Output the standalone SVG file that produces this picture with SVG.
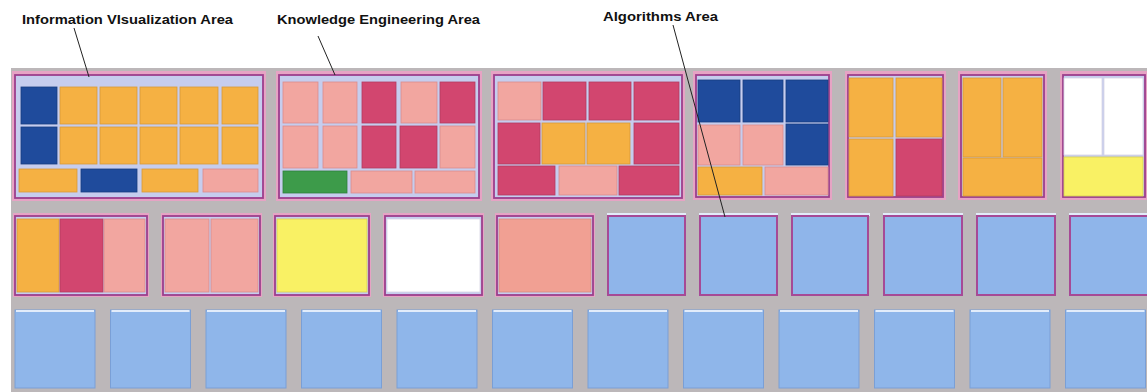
<svg xmlns="http://www.w3.org/2000/svg" width="1147" height="392" viewBox="0 0 1147 392">
<style>
.lbl{font-family:"Liberation Sans",Arial,sans-serif;font-weight:bold;font-size:12.5px;fill:#111}
.bg{fill:#bcb7b9}
.fo{fill:#e6a3c4}
.fi{fill:#c6cdee;stroke:#9c3f8c;stroke-width:1.8}
.o{fill:#f5b143;stroke:#d89a38;stroke-width:0.8}
.b{fill:#1f4b9c;stroke:#183c80;stroke-width:0.8}
.p{fill:#f2a6a0;stroke:#d98c8c;stroke-width:0.8}
.m{fill:#d2466f;stroke:#b23a60;stroke-width:0.8}
.g{fill:#3d9b4a;stroke:#2f7f3c;stroke-width:0.8}
.y{fill:#f9f164;stroke:#d8cf50;stroke-width:0.8}
.w{fill:#ffffff;stroke:#d8d4e4;stroke-width:0.8}
.s{fill:#f1a093;stroke:#d88a80;stroke-width:0.8}
.lbf{fill:#8fb5ea;stroke:#a64a96;stroke-width:2}
.top{fill:#e2ecfa}
.sq{fill:#8fb6ea;stroke:#7a9fd6;stroke-width:1}
.ln{stroke:#222;stroke-width:1;fill:none}
</style>

<rect class="bg" x="11" y="68" width="1136" height="324"/>

<g id="labels">
<text class="lbl" x="22" y="24" textLength="211" lengthAdjust="spacingAndGlyphs">Information VIsualization Area</text>
<text class="lbl" x="277" y="24" textLength="203" lengthAdjust="spacingAndGlyphs">Knowledge Engineering Area</text>
<text class="lbl" x="603" y="21" textLength="115" lengthAdjust="spacingAndGlyphs">Algorithms Area</text>
</g>

<!-- Row 1 -->
<g id="panel-infovis">
<rect class="fo" x="12" y="71" width="254" height="130"/>
<rect class="fi" x="15" y="75" width="248" height="123"/>
<rect class="b" x="21" y="87" width="36" height="37"/>
<rect class="o" x="60" y="87" width="37" height="37"/>
<rect class="o" x="100" y="87" width="37" height="37"/>
<rect class="o" x="140" y="87" width="37" height="37"/>
<rect class="o" x="180" y="87" width="38" height="37"/>
<rect class="o" x="222" y="87" width="36" height="37"/>
<rect class="b" x="21" y="127" width="36" height="37"/>
<rect class="o" x="60" y="127" width="37" height="37"/>
<rect class="o" x="100" y="127" width="37" height="37"/>
<rect class="o" x="140" y="127" width="37" height="37"/>
<rect class="o" x="180" y="127" width="38" height="37"/>
<rect class="o" x="222" y="127" width="36" height="37"/>
<rect class="o" x="19" y="169" width="58" height="23"/>
<rect class="b" x="81" y="169" width="56" height="23"/>
<rect class="o" x="142" y="169" width="56" height="23"/>
<rect class="p" x="203" y="169" width="55" height="23"/>
</g>

<g id="panel-knowledge">
<rect class="fo" x="276" y="71" width="206" height="130"/>
<rect class="fi" x="279" y="75" width="200" height="123"/>
<rect class="p" x="283" y="82" width="35" height="41"/>
<rect class="p" x="323" y="82" width="34" height="41"/>
<rect class="m" x="362" y="82" width="34" height="41"/>
<rect class="p" x="401" y="82" width="36" height="41"/>
<rect class="m" x="440" y="82" width="35" height="41"/>
<rect class="p" x="283" y="126" width="35" height="42"/>
<rect class="p" x="323" y="126" width="34" height="42"/>
<rect class="m" x="362" y="126" width="34" height="42"/>
<rect class="m" x="400" y="126" width="37" height="42"/>
<rect class="p" x="440" y="126" width="35" height="42"/>
<rect class="g" x="283" y="171" width="64" height="22"/>
<rect class="p" x="351" y="171" width="61" height="22"/>
<rect class="p" x="415" y="171" width="60" height="22"/>
</g>

<g id="panel-3">
<rect class="fo" x="491" y="71" width="194" height="130"/>
<rect class="fi" x="494" y="75" width="188" height="123"/>
<rect class="p" x="498" y="82" width="43" height="38"/>
<rect class="m" x="543" y="82" width="43" height="38"/>
<rect class="m" x="589" y="82" width="42" height="38"/>
<rect class="m" x="634" y="82" width="45" height="38"/>
<rect class="m" x="498" y="123" width="42" height="41"/>
<rect class="o" x="542" y="123" width="43" height="41"/>
<rect class="o" x="587" y="123" width="43" height="41"/>
<rect class="m" x="634" y="123" width="45" height="41"/>
<rect class="m" x="498" y="166" width="57" height="29"/>
<rect class="p" x="559" y="166" width="58" height="29"/>
<rect class="m" x="619" y="166" width="60" height="29"/>
</g>

<g id="panel-4">
<rect class="fo" x="693" y="71" width="139" height="129"/>
<rect class="fi" x="696" y="75" width="133" height="122"/>
<rect class="b" x="698" y="80" width="42" height="42"/>
<rect class="b" x="743" y="80" width="40" height="42"/>
<rect class="b" x="786" y="80" width="42" height="42"/>
<rect class="p" x="698" y="125" width="42" height="40"/>
<rect class="p" x="743" y="125" width="40" height="40"/>
<rect class="b" x="786" y="124" width="42" height="41"/>
<rect class="o" x="698" y="167" width="64" height="28"/>
<rect class="p" x="765" y="167" width="63" height="28"/>
</g>

<g id="panel-5">
<rect class="fo" x="845" y="71" width="101" height="129"/>
<rect class="fi" x="848" y="75" width="95" height="122"/>
<rect class="o" x="849" y="78" width="44" height="59"/>
<rect class="o" x="896" y="78" width="46" height="59"/>
<rect class="o" x="849" y="139" width="44" height="57"/>
<rect class="m" x="896" y="139" width="46" height="57"/>
</g>

<g id="panel-6">
<rect class="fo" x="958" y="71" width="89" height="129"/>
<rect class="fi" x="961" y="75" width="83" height="122"/>
<rect class="o" x="963" y="78" width="38" height="79"/>
<rect class="o" x="1003" y="78" width="39" height="79"/>
<rect class="o" x="963" y="158" width="79" height="38"/>
</g>

<g id="panel-7">
<rect class="fo" x="1060" y="71" width="87" height="129"/>
<rect class="fi" x="1063" y="75" width="82" height="122"/>
<rect class="w" x="1064" y="78" width="38" height="77"/>
<rect class="w" x="1104" y="78" width="39" height="77"/>
<rect class="y" x="1064" y="157" width="79" height="39"/>
</g>

<!-- Row 2 -->
<g id="panel-r2-1">
<rect class="fo" x="13" y="213" width="136" height="84"/>
<rect class="fi" x="15" y="216" width="132" height="79"/>
<rect class="o" x="17" y="219" width="42" height="73"/>
<rect class="m" x="60" y="219" width="43" height="73"/>
<rect class="p" x="104" y="219" width="41" height="73"/>
</g>
<g id="panel-r2-2">
<rect class="fo" x="161" y="213" width="101" height="84"/>
<rect class="fi" x="163" y="216" width="97" height="79"/>
<rect class="p" x="165" y="219" width="44" height="73"/>
<rect class="p" x="211" y="219" width="47" height="73"/>
</g>
<g id="panel-r2-3">
<rect class="fo" x="273" y="213" width="98" height="84"/>
<rect class="fi" x="275" y="216" width="94" height="79"/>
<rect class="y" x="277" y="219" width="90" height="73"/>
</g>
<g id="panel-r2-4">
<rect class="fo" x="383" y="213" width="101" height="84"/>
<rect class="fi" x="385" y="216" width="97" height="79"/>
<rect class="w" x="387" y="219" width="93" height="73"/>
</g>
<g id="panel-r2-5">
<rect class="fo" x="495" y="213" width="100" height="84"/>
<rect class="fi" x="497" y="216" width="96" height="79"/>
<rect class="s" x="499" y="219" width="92" height="73"/>
</g>
<g id="panel-r2-6"><rect class="top" x="607" y="213" width="79" height="3"/><rect class="lbf" x="608" y="216" width="77" height="79"/></g>
<g id="panel-r2-7"><rect class="top" x="699" y="213" width="79" height="3"/><rect class="lbf" x="700" y="216" width="77" height="79"/></g>
<g id="panel-r2-8"><rect class="top" x="791" y="213" width="79" height="3"/><rect class="lbf" x="792" y="216" width="76" height="79"/></g>
<g id="panel-r2-9"><rect class="top" x="883" y="213" width="80" height="3"/><rect class="lbf" x="884" y="216" width="78" height="79"/></g>
<g id="panel-r2-10"><rect class="top" x="976" y="213" width="80" height="3"/><rect class="lbf" x="977" y="216" width="78" height="79"/></g>
<g id="panel-r2-11"><rect class="top" x="1069" y="213" width="78" height="3"/><rect class="lbf" x="1070" y="216" width="78" height="79"/></g>

<!-- Row 3 -->
<g id="sq-1"><rect class="sq" x="15" y="310" width="80" height="78"/><rect class="top" x="16" y="310" width="78" height="2"/></g>
<g id="sq-2"><rect class="sq" x="110.5" y="310" width="80" height="78"/><rect class="top" x="111.5" y="310" width="78" height="2"/></g>
<g id="sq-3"><rect class="sq" x="206" y="310" width="80" height="78"/><rect class="top" x="207" y="310" width="78" height="2"/></g>
<g id="sq-4"><rect class="sq" x="301.5" y="310" width="80" height="78"/><rect class="top" x="302.5" y="310" width="78" height="2"/></g>
<g id="sq-5"><rect class="sq" x="397" y="310" width="80" height="78"/><rect class="top" x="398" y="310" width="78" height="2"/></g>
<g id="sq-6"><rect class="sq" x="492.5" y="310" width="80" height="78"/><rect class="top" x="493.5" y="310" width="78" height="2"/></g>
<g id="sq-7"><rect class="sq" x="588" y="310" width="80" height="78"/><rect class="top" x="589" y="310" width="78" height="2"/></g>
<g id="sq-8"><rect class="sq" x="683.5" y="310" width="80" height="78"/><rect class="top" x="684.5" y="310" width="78" height="2"/></g>
<g id="sq-9"><rect class="sq" x="779" y="310" width="80" height="78"/><rect class="top" x="780" y="310" width="78" height="2"/></g>
<g id="sq-10"><rect class="sq" x="874.5" y="310" width="80" height="78"/><rect class="top" x="875.5" y="310" width="78" height="2"/></g>
<g id="sq-11"><rect class="sq" x="970" y="310" width="80" height="78"/><rect class="top" x="971" y="310" width="78" height="2"/></g>
<g id="sq-12"><rect class="sq" x="1065.5" y="310" width="80" height="78"/><rect class="top" x="1066.5" y="310" width="78" height="2"/></g>

<g id="connectors">
<line class="ln" x1="74" y1="28" x2="89" y2="77"/>
<line class="ln" x1="318" y1="36" x2="335" y2="75"/>
<line class="ln" x1="673" y1="25" x2="725" y2="217"/>
</g>
</svg>
